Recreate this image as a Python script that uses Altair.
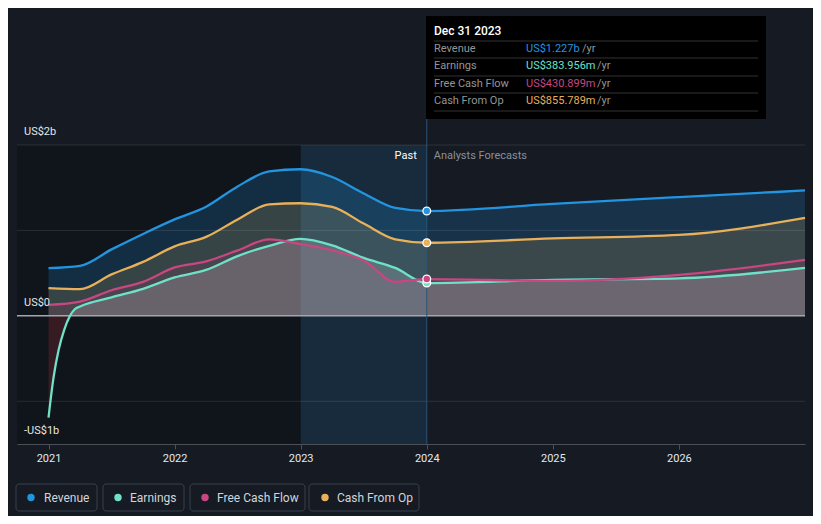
import altair as alt
import pandas as pd

# ---- data (values in US$ billions, x in decimal years) ----
t_main = [2021.0, 2021.25, 2021.5, 2021.75, 2022.0, 2022.25, 2022.5, 2022.75,
          2023.0, 2023.25, 2023.5, 2023.75, 2024.0, 2025.0, 2026.0, 2027.0]
revenue = [0.558, 0.585, 0.778, 0.959, 1.129, 1.278, 1.515, 1.69,
           1.716, 1.626, 1.433, 1.263, 1.227, 1.31, 1.39, 1.468]
cash_from_op = [0.325, 0.313, 0.485, 0.632, 0.813, 0.924, 1.129, 1.304,
                1.318, 1.275, 1.08, 0.895, 0.856, 0.906, 0.947, 1.146]
free_cash_flow = [0.129, 0.167, 0.30, 0.398, 0.567, 0.637, 0.766, 0.895,
                  0.84, 0.766, 0.649, 0.398, 0.431, 0.409, 0.48, 0.655]
t_earn = [2021.0, 2021.04, 2021.08, 2021.125, 2021.17, 2021.21, 2021.25, 2021.5,
          2021.75, 2022.0, 2022.25, 2022.5, 2022.75, 2023.0, 2023.25, 2023.5,
          2023.75, 2024.0, 2025.0, 2026.0, 2027.0]
earnings = [-1.19, -0.72, -0.40, -0.16, 0.0, 0.08, 0.11, 0.216,
            0.316, 0.45, 0.538, 0.70, 0.82, 0.90, 0.825, 0.678,
            0.561, 0.384, 0.421, 0.439, 0.561]

series_names = ["Revenue", "Earnings", "Free Cash Flow", "Cash From Op"]
series_colors = ["#2394df", "#6ee1c8", "#c84682", "#e8b05a"]
tooltip_date = "Dec 31 2023"
tooltip_values = ["US$1.227b", "US$383.956m", "US$430.899m", "US$855.789m"]
year_ticks = [2021, 2022, 2023, 2024, 2025, 2026]
grid_values = [2, 1, -1]
y_label_values = [2, 0, -1.5]
y_label_texts = ["US$2b", "US$0", "-US$1b"]
past_start, past_end, forecast_start = 2020.75, 2023.0, 2024.0

rows = []
for name, vals in [("Revenue", revenue), ("Cash From Op", cash_from_op),
                   ("Free Cash Flow", free_cash_flow)]:
    for t, v in zip(t_main, vals):
        rows.append({"series": name, "t": t, "v": v})
for t, v in zip(t_earn, earnings):
    rows.append({"series": "Earnings", "t": t, "v": v})
df = pd.DataFrame(rows)
df["pos"] = df["v"].clip(lower=0)
df["neg"] = df["v"].clip(upper=0)

one = pd.DataFrame({"k": [0]})
color_of = dict(zip(series_names, series_colors))

xs = alt.Scale(domain=[2020.75, 2027.0], nice=False, zero=False)
ys = alt.Scale(domain=[-1.5, 2.0], nice=False, zero=False)
FONT = "Roboto"

layers = []

# past shading + x axis
past_df = pd.DataFrame({"a": [past_start], "b": [past_end]})
layers.append(
    alt.Chart(past_df).mark_rect(color="#10141b").encode(
        x=alt.X("a:Q", scale=xs, axis=alt.Axis(
            values=year_ticks, format="d", title=None, grid=False,
            labelColor="#e8e8e8", labelFontSize=11, labelFont=FONT,
            tickColor="#4a4f58", domainColor="#4a4f58", tickSize=5,
            labelPadding=3, labelFlush=False)),
        x2="b:Q",
        y=alt.value(0), y2=alt.value(299),
    )
)
# highlighted last-year band
hl_df = pd.DataFrame({"a": [past_end], "b": [forecast_start]})
layers.append(
    alt.Chart(hl_df).mark_rect(color="#2394df", opacity=0.14).encode(
        x=alt.X("a:Q", scale=xs), x2="b:Q", y=alt.value(0), y2=alt.value(299))
)

# areas
area_opacity = {"Revenue": 0.2, "Cash From Op": 0.17, "Free Cash Flow": 0.14, "Earnings": 0.17}
area_fill = {"Revenue": "#2394df", "Cash From Op": "#e8b05a", "Free Cash Flow": "#c84682", "Earnings": "#ffffff"}
for name in ["Revenue", "Cash From Op", "Free Cash Flow", "Earnings"]:
    layers.append(
        alt.Chart(df).transform_filter(alt.datum.series == name)
        .mark_area(color=area_fill[name], opacity=area_opacity[name], interpolate="monotone")
        .encode(x=alt.X("t:Q", scale=xs), y=alt.Y("pos:Q", scale=ys, axis=None), y2=alt.datum(0))
    )
layers.append(
    alt.Chart(df).transform_filter(alt.datum.series == "Earnings")
    .mark_area(color="#e64141", opacity=0.18, interpolate="monotone")
    .encode(x=alt.X("t:Q", scale=xs), y=alt.Y("neg:Q", scale=ys), y2=alt.datum(0))
)

# gridlines
layers.append(
    alt.Chart(pd.DataFrame({"g": grid_values})).mark_rule(color="#ffffff", opacity=0.1, strokeWidth=1)
    .encode(y=alt.Y("g:Q", scale=ys))
)
layers.append(
    alt.Chart(one).mark_rule(color="#a3a6ab", strokeWidth=1.5).encode(y=alt.datum(0))
)

# lines
for name in ["Revenue", "Cash From Op", "Earnings", "Free Cash Flow"]:
    layers.append(
        alt.Chart(df).transform_filter(alt.datum.series == name)
        .mark_line(color=color_of[name], strokeWidth=2.3, interpolate="monotone")
        .encode(x=alt.X("t:Q", scale=xs), y=alt.Y("v:Q", scale=ys))
    )

# vertical marker line
layers.append(
    alt.Chart(one).mark_rule(color="#2b5478", strokeWidth=1)
    .encode(x=alt.datum(forecast_start), y=alt.value(-128), y2=alt.value(299))
)

# points at the selected date
for name in ["Revenue", "Cash From Op", "Earnings", "Free Cash Flow"]:
    layers.append(
        alt.Chart(df).transform_filter((alt.datum.series == name) & (alt.datum.t == forecast_start))
        .mark_point(filled=True, fill=color_of[name], stroke="#ffffff", strokeWidth=1.3,
                    size=60, opacity=1)
        .encode(x=alt.X("t:Q", scale=xs), y=alt.Y("v:Q", scale=ys))
    )

# y labels
ylab = pd.DataFrame({"y": y_label_values, "txt": y_label_texts})
layers.append(
    alt.Chart(ylab).mark_text(align="left", baseline="middle", dy=-13, fontSize=11,
                              font=FONT, color="#e6e6e6")
    .encode(x=alt.value(7), y=alt.Y("y:Q", scale=ys), text="txt:N")
)

# Past / Analysts Forecasts
layers.append(
    alt.Chart(one).mark_text(align="right", baseline="middle", dx=-10, fontSize=11,
                             font=FONT, color="#ffffff", text="Past")
    .encode(x=alt.datum(forecast_start), y=alt.value(11))
)
layers.append(
    alt.Chart(one).mark_text(align="left", baseline="middle", dx=7, fontSize=11,
                             font=FONT, color="#8a8f98", text="Analysts Forecasts")
    .encode(x=alt.datum(forecast_start), y=alt.value(11))
)

# tooltip box
layers.append(
    alt.Chart(one).mark_rect(color="#000000").encode(
        x=alt.value(409), x2=alt.value(749), y=alt.value(-129), y2=alt.value(-26))
)
layers.append(
    alt.Chart(one).mark_text(align="left", baseline="middle", fontSize=12, fontWeight=500,
                             font=FONT, color="#ffffff", text=tooltip_date)
    .encode(x=alt.value(417), y=alt.value(-114))
)
for sy in [-104, -87, -69, -52, -34]:
    layers.append(
        alt.Chart(one).mark_rule(color="#333333", strokeWidth=1).encode(
            x=alt.value(417), x2=alt.value(741), y=alt.value(sy))
    )
row_y = [-96, -79, -61, -44]
yr_x = [565, 580, 580, 580]
for i, name in enumerate(series_names):
    layers.append(
        alt.Chart(one).mark_text(align="left", baseline="middle", fontSize=11, font=FONT,
                                 color="#959595", text=name)
        .encode(x=alt.value(417), y=alt.value(row_y[i]))
    )
    layers.append(
        alt.Chart(one).mark_text(align="left", baseline="middle", fontSize=11, font=FONT,
                                 color=series_colors[i], text=tooltip_values[i])
        .encode(x=alt.value(509), y=alt.value(row_y[i]))
    )
    layers.append(
        alt.Chart(one).mark_text(align="left", baseline="middle", fontSize=11, font=FONT,
                                 color="#959595", text="/yr")
        .encode(x=alt.value(yr_x[i]), y=alt.value(row_y[i]))
    )

# legend
box_x = [(-1, 80), (86, 167), (173, 288), (292, 402)]
dot_x = [14, 101, 188, 308]
txt_x = [27, 113, 200, 320]
for i, name in enumerate(series_names):
    layers.append(
        alt.Chart(one).mark_rect(fillOpacity=0, stroke="#3a404a", strokeWidth=1, cornerRadius=3)
        .encode(x=alt.value(box_x[i][0]), x2=alt.value(box_x[i][1]),
                y=alt.value(339), y2=alt.value(366))
    )
    layers.append(
        alt.Chart(one).mark_point(filled=True, fill=series_colors[i], size=55, opacity=1,
                                  strokeWidth=0)
        .encode(x=alt.value(dot_x[i]), y=alt.value(352.5))
    )
    layers.append(
        alt.Chart(one).mark_text(align="left", baseline="middle", fontSize=12, font=FONT,
                                 color="#d2d5da", text=name)
        .encode(x=alt.value(txt_x[i]), y=alt.value(352.5))
    )

chart = alt.layer(*layers).properties(
    width=788, height=299,
    padding={"left": 9, "top": 137, "right": 8, "bottom": 72},
    autosize=alt.AutoSizeParams(type="none"),
    background="#151a23",
).configure(font=FONT).configure_view(stroke=None)

chart.save("out.html", embed_options={"renderer": "svg", "actions": False})
